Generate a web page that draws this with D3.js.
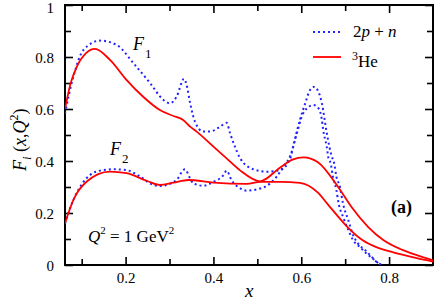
<!DOCTYPE html>
<html>
<head>
<meta charset="utf-8">
<script src="https://cdn.jsdelivr.net/npm/d3@7"></script>
<style>
  html, body { margin: 0; padding: 0; background: #fff; }
  svg text { font-family: "Liberation Serif", "Times New Roman", serif; fill: #000; }
</style>
</head>
<body>
<svg id="chart" width="436" height="301"></svg>
<script>
// ---- data ----
const xF1He = [0.062,0.075,0.089,0.11,0.13,0.165,0.202,0.240,0.278,0.309,0.331,0.347,0.362,0.40,0.43,0.46,0.506,0.552,0.58,0.605,0.638,0.684,0.714,0.752,0.786,0.83,0.863,0.9];
const yF1He = [0.60,0.70,0.763,0.815,0.831,0.788,0.712,0.647,0.596,0.573,0.558,0.532,0.513,0.455,0.41,0.365,0.322,0.375,0.405,0.414,0.395,0.30,0.224,0.147,0.097,0.058,0.038,0.018];

const xF2He = [0.062,0.081,0.111,0.164,0.202,0.248,0.278,0.309,0.343,0.40,0.476,0.506,0.552,0.597,0.638,0.661,0.684,0.707,0.74,0.775,0.802,0.863,0.9];
const yF2He = [0.16,0.25,0.32,0.359,0.353,0.324,0.308,0.317,0.327,0.317,0.312,0.32,0.32,0.316,0.278,0.232,0.186,0.143,0.095,0.066,0.052,0.026,0.013];

const xF1N = [0.062,0.081,0.104,0.142,0.18,0.218,0.256,0.286,0.301,0.316,0.333,0.339,0.347,0.358,0.377,0.392,0.415,0.43,0.438,0.449,0.461,0.491,0.521,0.552,0.575,0.582,0.597,0.609,0.62,0.629,0.639,0.647,0.657,0.664,0.669,0.675,0.680,0.688,0.695,0.707,0.718,0.729,0.745,0.760,0.775,0.785];
const yF1N = [0.583,0.724,0.827,0.863,0.846,0.776,0.699,0.635,0.622,0.647,0.716,0.692,0.622,0.551,0.513,0.513,0.532,0.547,0.506,0.455,0.41,0.368,0.359,0.365,0.41,0.46,0.558,0.622,0.673,0.685,0.667,0.622,0.519,0.455,0.42,0.391,0.34,0.301,0.237,0.173,0.115,0.083,0.058,0.032,0.007,0.0];

const xF2N = [0.062,0.081,0.1,0.119,0.142,0.172,0.202,0.233,0.263,0.278,0.301,0.316,0.335,0.347,0.354,0.377,0.40,0.423,0.43,0.441,0.461,0.476,0.499,0.521,0.544,0.559,0.575,0.590,0.601,0.613,0.628,0.639,0.647,0.65,0.658,0.662,0.667,0.672,0.680,0.685,0.695,0.707,0.718,0.733,0.748,0.767,0.78];
const yF2N = [0.16,0.25,0.31,0.346,0.363,0.368,0.365,0.34,0.308,0.304,0.312,0.327,0.368,0.333,0.314,0.305,0.32,0.346,0.363,0.327,0.295,0.286,0.291,0.304,0.34,0.378,0.42,0.506,0.57,0.603,0.615,0.603,0.558,0.519,0.455,0.41,0.391,0.34,0.288,0.237,0.186,0.135,0.096,0.07,0.045,0.019,0.0];

const xTicks = [0.1,0.2,0.3,0.4,0.5,0.6,0.7,0.8];
const xLabels = [0.2,0.4,0.6,0.8];
const yTicks = [0,0.1,0.2,0.3,0.4,0.5,0.6,0.7,0.8,0.9,1];
const yLabels = [0,0.2,0.4,0.6,0.8,1];
const seriesNames = ["2p + n", "3He"];

// ---- layout ----
const L = 65, R = 433, T = 5, B = 265;
const svg = d3.select("#chart");
const x = d3.scaleLinear().domain([0.062, 0.9]).range([L, R]);
const y = d3.scaleLinear().domain([0, 1]).range([B, T]);

const fmt = d => (d === 0 ? "0" : d === 1 ? "1" : d3.format(".1f")(d));
const isLabX = d => xLabels.some(v => Math.abs(v - d) < 1e-9);
const isLabY = d => yLabels.some(v => Math.abs(v - d) < 1e-9);

svg.append("defs").append("clipPath").attr("id", "clip")
  .append("rect").attr("x", L).attr("y", T).attr("width", R - L).attr("height", B - T);

function styleAxis(g, labels) {
  g.select(".domain").remove();
  g.selectAll(".tick line").attr("stroke", "#000").attr("stroke-width", 1.6);
  g.selectAll(".tick text").attr("font-size", 15).attr("font-family", "Liberation Serif");
  if (!labels) g.selectAll(".tick text").remove();
}

// bottom
const gb = svg.append("g").attr("transform", `translate(0,${B})`)
  .call(d3.axisBottom(x).tickValues(xTicks).tickSize(-8).tickPadding(7)
    .tickFormat(d => isLabX(d) ? fmt(d) : ""));
styleAxis(gb, true);
gb.selectAll(".tick line").attr("y2", d => isLabX(d) ? -8 : -6);
// top
const gt = svg.append("g").attr("transform", `translate(0,${T})`)
  .call(d3.axisTop(x).tickValues(xTicks).tickSize(-8).tickFormat(""));
styleAxis(gt, false);
gt.selectAll(".tick line").attr("y2", d => isLabX(d) ? 8 : 6);
// left
const gl = svg.append("g").attr("transform", `translate(${L},0)`)
  .call(d3.axisLeft(y).tickValues(yTicks).tickSize(-8).tickPadding(11)
    .tickFormat(d => isLabY(d) ? fmt(d) : ""));
styleAxis(gl, true);
gl.selectAll(".tick line").attr("x2", d => isLabY(d) ? 8 : 6);
gl.selectAll(".tick text").attr("dy", d => d === 1 ? "0.5em" : "0.35em");
// right
const gr = svg.append("g").attr("transform", `translate(${R},0)`)
  .call(d3.axisRight(y).tickValues(yTicks).tickSize(-7).tickFormat(""));
styleAxis(gr, false);
gr.selectAll(".tick line").attr("x2", d => isLabY(d) ? -8 : -6);

// frame
svg.append("rect").attr("x", L).attr("y", T).attr("width", R - L).attr("height", B - T)
  .attr("fill", "none").attr("stroke", "#000").attr("stroke-width", 2);

// curves
const line = d3.line().x(d => x(d[0])).y(d => y(d[1])).curve(d3.curveMonotoneX);
const zip = (a, b) => a.map((v, i) => [v, b[i]]);
const blue = "#2222ff", red = "#ff0000";
const plot = svg.append("g").attr("clip-path", "url(#clip)");
[[xF1N, yF1N], [xF2N, yF2N]].forEach(([a, b]) =>
  plot.append("path").attr("d", line(zip(a, b))).attr("fill", "none")
    .attr("stroke", blue).attr("stroke-width", 2).attr("stroke-dasharray", "2,3"));
[[xF1He, yF1He], [xF2He, yF2He]].forEach(([a, b]) =>
  plot.append("path").attr("d", line(zip(a, b))).attr("fill", "none")
    .attr("stroke", red).attr("stroke-width", 1.8));

// legend
svg.append("line").attr("x1", 313).attr("x2", 341).attr("y1", 32).attr("y2", 32)
  .attr("stroke", blue).attr("stroke-width", 2).attr("stroke-dasharray", "2,3");
svg.append("line").attr("x1", 313).attr("x2", 341).attr("y1", 57).attr("y2", 57)
  .attr("stroke", red).attr("stroke-width", 1.8);
const t1 = svg.append("text").attr("x", 353).attr("y", 37).attr("font-size", 17);
t1.append("tspan").text("2");
t1.append("tspan").attr("font-style", "italic").text("p");
t1.append("tspan").text(" + ");
t1.append("tspan").attr("font-style", "italic").text("n");
const t2 = svg.append("text").attr("x", 352).attr("y", 67).attr("font-size", 17);
t2.append("tspan").attr("font-size", 12).attr("dy", -7).text("3");
t2.append("tspan").attr("dy", 7).text("He");

// curve labels
function fLabel(xp, yp, sub) {
  const t = svg.append("text").attr("x", xp).attr("y", yp).attr("font-size", 18);
  t.append("tspan").attr("font-style", "italic").text("F");
  t.append("tspan").attr("font-size", 13).attr("dx", 1).attr("dy", 8).text(sub);
}
fLabel(133, 50, "1");
fLabel(110, 155, "2");

const q = svg.append("text").attr("x", 88).attr("y", 242).attr("font-size", 17);
q.append("tspan").attr("font-style", "italic").text("Q");
q.append("tspan").attr("font-size", 11).attr("dy", -8).text("2");
q.append("tspan").attr("dy", 8).text(" = 1 GeV");
q.append("tspan").attr("font-size", 11).attr("dy", -8).text("2");

svg.append("text").attr("x", 391).attr("y", 213).attr("font-size", 18)
  .attr("font-weight", "bold").text("(a)");

svg.append("text").attr("x", 245).attr("y", 297).attr("font-size", 19)
  .attr("font-style", "italic").text("x");

const yl = svg.append("text").attr("transform", "translate(26,171) rotate(-90)")
  .attr("font-size", 18);
yl.append("tspan").attr("font-style", "italic").text("F");
yl.append("tspan").attr("font-style", "italic").attr("font-size", 13).attr("dy", 5).text("i");
yl.append("tspan").attr("dy", -5).text(" (");
yl.append("tspan").attr("font-style", "italic").text("x");
yl.append("tspan").text(",");
yl.append("tspan").attr("font-style", "italic").text("Q");
yl.append("tspan").attr("font-size", 12).attr("dy", -8).text("2");
yl.append("tspan").attr("dy", 8).text(")");
</script>
</body>
</html>
